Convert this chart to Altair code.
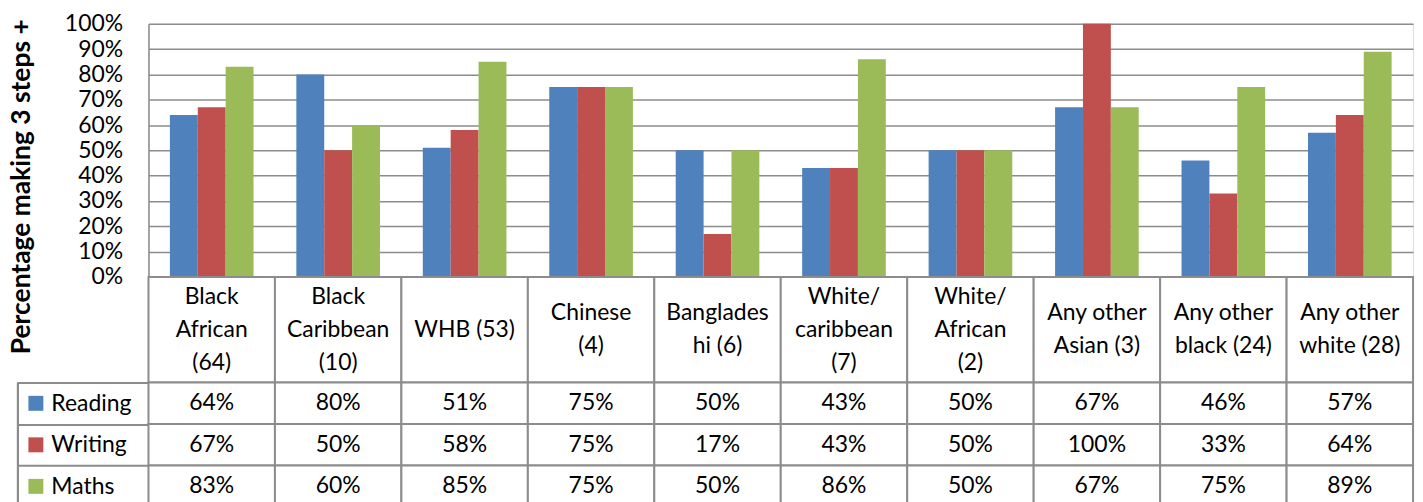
import altair as alt
import pandas as pd

categories = ["Black African (64)", "Black Caribbean (10)", "WHB (53)", "Chinese (4)",
              "Bangladeshi (6)", "White/caribbean (7)", "White/African (2)",
              "Any other Asian (3)", "Any other black (24)", "Any other white (28)"]
category_labels = ["Black\nAfrican\n(64)", "Black\nCaribbean\n(10)", "WHB (53)", "Chinese\n(4)",
                   "Banglades\nhi (6)", "White/\ncaribbean\n(7)", "White/\nAfrican\n(2)",
                   "Any other\nAsian (3)", "Any other\nblack (24)", "Any other\nwhite (28)"]
series = ["Reading", "Writing", "Maths"]
colors = ["#4F81BD", "#C0504D", "#9BBB59"]
reading = [64, 80, 51, 75, 50, 43, 50, 67, 46, 57]
writing = [67, 50, 58, 75, 17, 43, 50, 100, 33, 64]
maths = [83, 60, 85, 75, 50, 86, 50, 67, 75, 89]
y_ticks = [0, 0.1, 0.2, 0.3, 0.4, 0.5, 0.6, 0.7, 0.8, 0.9, 1.0]

rows = []
for s, vals in zip(series, [reading, writing, maths]):
    for c, v in zip(categories, vals):
        rows.append({"cat": c, "series": s, "value": v / 100})
df = pd.DataFrame(rows)
cat_df = pd.DataFrame({"cat": categories})
line_rows = []
for c, lab in zip(categories, category_labels):
    parts = lab.split("\n")
    n = len(parts)
    for i, p in enumerate(parts):
        line_rows.append({"cat": c, "line": p, "pos": (n - 1) / 2 - i})
line_df = pd.DataFrame(line_rows)
ser_df = pd.DataFrame({"series": series})

W = 1269
HEADER_H = 106
LINE_H = 33
GRID = "#8c8c8c"
FONT = "Lato"
FS = 23

xscale = alt.Scale(domain=categories, paddingInner=0, paddingOuter=0)
cscale = alt.Scale(domain=series, range=colors)

bars = alt.Chart(df).mark_bar().encode(
    x=alt.X("cat:N", sort=categories, scale=xscale, axis=None),
    xOffset=alt.XOffset("series:N", sort=series,
                        scale=alt.Scale(domain=series, paddingInner=0, paddingOuter=0.768)),
    y=alt.Y("value:Q", scale=alt.Scale(domain=[0, 1], nice=False),
            axis=alt.Axis(values=y_ticks, format=".0%", title="Percentage making 3 steps +",
                          grid=True, gridColor=GRID, gridWidth=1.5,
                          domainColor=GRID, domainWidth=1.5, ticks=False,
                          labelPadding=26, labelFontSize=FS, labelColor="black",
                          labelFont=FONT, titleFont=FONT, titleFontSize=26.5,
                          titleFontWeight="bold", titleColor="black",
                          titleAngle=270, titleBaseline="bottom", titleAlign="center",
                          titleX=-113, titleY=163)),
    color=alt.Color("series:N", scale=cscale, legend=None),
).properties(width=W, height=254)

header_cells = alt.Chart(cat_df).mark_rect(fill="white", stroke=GRID, strokeWidth=2).encode(
    x=alt.X("cat:N", sort=categories, scale=xscale, axis=None),
)
half = HEADER_H / 2 / LINE_H
header_text = alt.Chart(line_df).mark_text(fontSize=FS, font=FONT, baseline="middle",
                                           color="black").encode(
    x=alt.X("cat:N", sort=categories, scale=xscale, axis=None),
    y=alt.Y("pos:Q", scale=alt.Scale(domain=[-half, half], nice=False, zero=False), axis=None),
    text="line:N",
)
header = alt.layer(header_cells, header_text).properties(width=W, height=HEADER_H)

yrow = alt.Y("series:N", sort=series, scale=alt.Scale(domain=series, paddingInner=0, paddingOuter=0),
             axis=alt.Axis(title=None, domain=False, tickBand="extent", tickSize=131,
                           tickColor=GRID, tickWidth=2, labelAlign="left", labelPadding=-33,
                           labelFontSize=FS, labelFont=FONT, labelColor="black"))
cells = alt.Chart(df).mark_rect(fill="white", stroke=GRID, strokeWidth=2).encode(
    x=alt.X("cat:N", sort=categories, scale=xscale, axis=None),
    y=yrow,
)
cell_text = alt.Chart(df).mark_text(fontSize=FS, font=FONT, baseline="middle", color="black").encode(
    x=alt.X("cat:N", sort=categories, scale=xscale, axis=None),
    y=yrow,
    text=alt.Text("value:Q", format=".0%"),
)
squares = alt.Chart(ser_df).mark_square(size=225, opacity=1).encode(
    x=alt.value(-113),
    y=yrow,
    color=alt.Color("series:N", scale=cscale, legend=None),
)
left_border = alt.Chart(ser_df).mark_rule(color=GRID, strokeWidth=2).encode(
    x=alt.value(-131), y=alt.value(0), y2=alt.value(125),
)
table = alt.layer(cells, cell_text, squares, left_border).properties(width=W, height=125)

chart = alt.vconcat(bars, header, table, spacing=0, bounds="flush").resolve_scale(
    y="independent", color="shared"
).properties(
    padding={"left": 8, "top": 11, "right": 8, "bottom": 0}
).configure_view(stroke=None).configure(font=FONT)

chart.save("out.html", embed_options={"renderer": "svg", "actions": False})
